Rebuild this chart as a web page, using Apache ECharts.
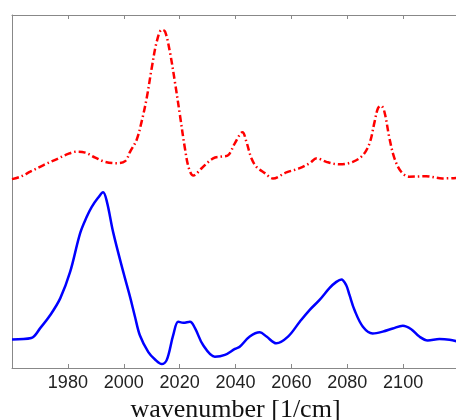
<!DOCTYPE html>
<html>
<head>
<meta charset="utf-8">
<script src="https://cdn.jsdelivr.net/npm/echarts@6/dist/echarts.min.js"></script>
<style>
  html, body { margin: 0; padding: 0; background: #fff; }
  #chart { width: 456px; height: 420px; }
</style>
</head>
<body>
<div id="chart"></div>
<script>
// blue (solid) spectrum
const blueWn = [1960, 1966.9, 1970.1, 1973.7, 1977.3, 1980.8, 1984.4, 1986.8, 1988.5, 1990.8, 1992.6, 1994, 1996.2,
  1999.9, 2002.3, 2004, 2005.8, 2008.8, 2011.2, 2013.6, 2015.4, 2017.7, 2019.5, 2021.3, 2023.7, 2025.5, 2028.4,
  2032.6, 2036.2, 2039.8, 2041.5, 2045.1, 2048.7, 2051.1, 2054.6, 2058.8, 2063, 2066.5, 2070.1,
  2073.7, 2076.1, 2077.9, 2079.6, 2080.8, 2082.6, 2085.6, 2089.1, 2092.7, 2096.3, 2099.9, 2102.9,
  2105.8, 2108.8, 2113, 2116.6, 2120]
const blueVal = [8.1, 8.5, 11.3, 15, 19.8, 27.2, 38.2, 42.9, 45.6, 48.2, 49.8, 47, 38.5,
  27, 20, 14.6, 9.2, 4.5, 2.4, 1.1, 2.3, 9.3, 13.1, 12.8, 13.1, 11.3, 6.5,
  3.2, 3.7, 5.4, 6, 8.9, 10.1, 8.9, 7, 8.9, 13.1, 16.4, 19.3,
  22.7, 24.4, 25.1, 23.5, 20.7, 16.4, 11.7, 9.8, 10.3, 11.2, 12, 11,
  8.9, 7.8, 8.2, 8, 7.4]

// red (dash-dot) spectrum
const redWn = [1960, 1963, 1966.5, 1971.3, 1976.1, 1979.6, 1983.2, 1986.2, 1989.8, 1993.3, 1997.5,
  2000.5, 2002.3, 2004.6, 2006.4, 2008.2, 2010, 2011.8, 2013.6, 2014.8, 2016.5, 2018.3, 2020.1,
  2021.9, 2023.3, 2024.9, 2027.9, 2032, 2035, 2037.4, 2039.8, 2042.5, 2043.9, 2045.7, 2047.5,
  2050.5, 2053.4, 2058.2, 2063, 2066.5, 2069.1, 2072.5, 2077.3, 2082, 2085.6, 2088, 2089.8,
  2091, 2092.1, 2093.3, 2095.1, 2096.9, 2099.3, 2102.2, 2108.2, 2114.1, 2120]
const redVal = [53.5, 54.2, 55.6, 57.5, 59.2, 60.5, 61.3, 61, 59.6, 58.4, 58,
  58.6, 61.3, 64.6, 69.8, 76.4, 84.9, 92.4, 95.8, 95.3, 89.6, 81.1, 71.7,
  62.2, 56.6, 54.5, 56.6, 59.4, 59.9, 60.3, 63.7, 66.8, 64.1, 59.4, 57,
  55.2, 53.7, 55.4, 56.6, 58, 59.4, 58.4, 57.7, 58.4, 60.3, 63.7, 69.8,
  73.6, 74.3, 72.6, 65.1, 59.4, 55.6, 54.2, 54.3, 53.7, 53.9]

const tickValues = [1980, 2000, 2020, 2040, 2060, 2080, 2100]

const chart = echarts.init(document.getElementById('chart'))

const axisGray = '#888'

chart.setOption({
  animation: false,
  grid: { left: 12, right: -3, top: 15, bottom: 52, outerBoundsMode: 'none', containLabel: false },
  xAxis: [
    {
      type: 'value',
      min: 1960,
      max: 2120,
      interval: 20,
      position: 'bottom',
      name: 'wavenumber [1/cm]',
      nameLocation: 'middle',
      nameGap: 26,
      nameTextStyle: { fontFamily: 'Liberation Serif', fontSize: 26, color: '#111' },
      axisLine: { show: true, lineStyle: { color: axisGray, width: 1 } },
      axisTick: { show: true, inside: true, length: 4, lineStyle: { color: axisGray } },
      axisLabel: {
        margin: 6,
        fontFamily: 'Liberation Sans',
        fontSize: 18,
        color: '#222',
        showMinLabel: false,
        showMaxLabel: false,
        formatter: v => (tickValues.includes(v) ? String(v) : '')
      },
      splitLine: { show: false }
    },
    {
      type: 'value',
      min: 1960,
      max: 2120,
      interval: 20,
      position: 'top',
      axisLine: { show: true, lineStyle: { color: axisGray, width: 1 } },
      axisTick: { show: true, inside: true, length: 4, lineStyle: { color: axisGray } },
      axisLabel: { show: false },
      splitLine: { show: false }
    }
  ],
  yAxis: {
    type: 'value',
    min: 0,
    max: 100,
    axisLine: { show: true, lineStyle: { color: axisGray, width: 1 } },
    axisTick: { show: false },
    axisLabel: { show: false },
    splitLine: { show: false }
  },
  series: [
    {
      name: 'red',
      type: 'line',
      xAxisIndex: 0,
      data: redWn.map((w, i) => [w, redVal[i]]),
      smooth: 0.35,
      showSymbol: false,
      lineStyle: { color: '#ff0000', width: 2.5, type: [7, 3, 1.5, 3] },
      clip: true
    },
    {
      name: 'blue',
      type: 'line',
      xAxisIndex: 0,
      data: blueWn.map((w, i) => [w, blueVal[i]]),
      smooth: 0.35,
      showSymbol: false,
      lineStyle: { color: '#0000ff', width: 2.5 },
      clip: true
    }
  ]
})

window.addEventListener('resize', () => chart.resize())
</script>
</body>
</html>
